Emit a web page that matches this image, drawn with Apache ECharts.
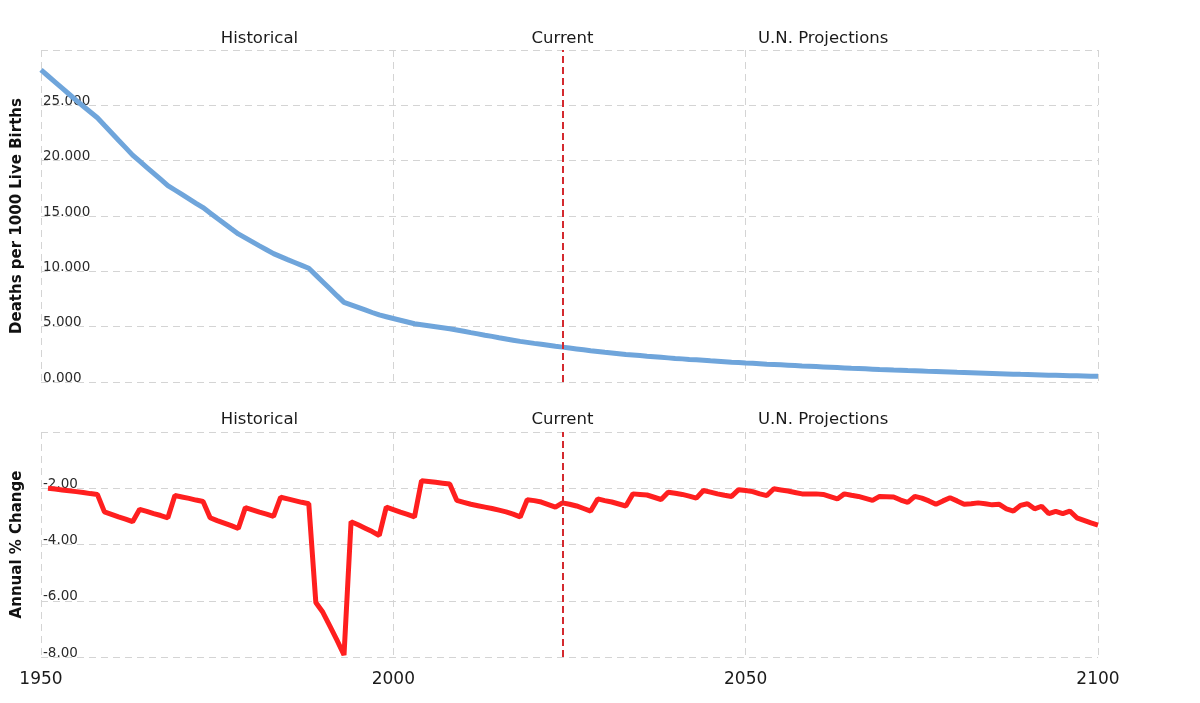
<!DOCTYPE html>
<html>
<head>
<meta charset="utf-8">
<title>Infant Mortality Rate</title>
<script src="https://cdn.jsdelivr.net/npm/echarts@6/dist/echarts.min.js"></script>
<style>
    html, body { margin: 0; padding: 0; background: #fff; }
    #chart { width: 1200px; height: 703px; }
</style>
</head>
<body>
<div id="chart"></div>
<script>
// years 1950..2100, one point per year
const firstYear = 1950;
const lastYear = 2100;
const currentYear = 2024;
const xTicks = [1950, 2000, 2050, 2100];

// deaths per 1000 live births, 1950..2100
const rateValues = [
    28.2, 27.65, 27.1, 26.55, 26.0, 25.45, 24.92, 24.4, 23.88, 23.2,
    22.53, 21.85, 21.18, 20.5, 19.95, 19.4, 18.85, 18.3, 17.75, 17.35,
    16.95, 16.55, 16.15, 15.76, 15.28, 14.8, 14.33, 13.85, 13.38, 13.02,
    12.66, 12.3, 11.95, 11.6, 11.33, 11.06, 10.8, 10.54, 10.28, 9.66,
    9.04, 8.42, 7.8, 7.2, 6.97, 6.74, 6.51, 6.28, 6.06, 5.9,
    5.74, 5.58, 5.42, 5.26, 5.17, 5.08, 4.99, 4.9, 4.81, 4.7,
    4.58, 4.46, 4.35, 4.23, 4.12, 4.0, 3.89, 3.78, 3.67, 3.58,
    3.49, 3.41, 3.32, 3.23, 3.15, 3.07, 2.99, 2.91, 2.83, 2.76,
    2.69, 2.63, 2.56, 2.49, 2.44, 2.39, 2.33, 2.28, 2.23, 2.18,
    2.13, 2.09, 2.04, 2.0, 1.96, 1.91, 1.87, 1.83, 1.79, 1.76,
    1.72, 1.69, 1.65, 1.61, 1.58, 1.55, 1.52, 1.49, 1.45, 1.42,
    1.39, 1.36, 1.33, 1.3, 1.27, 1.24, 1.22, 1.19, 1.16, 1.13,
    1.11, 1.08, 1.06, 1.03, 1.01, 0.99, 0.96, 0.94, 0.92, 0.9,
    0.87, 0.85, 0.83, 0.81, 0.79, 0.77, 0.75, 0.73, 0.71, 0.69,
    0.68, 0.66, 0.64, 0.62, 0.61, 0.59, 0.57, 0.56, 0.54, 0.52,
    0.51
];

// annual % change, 1951..2100
const changeValues = [
    -2.0, -2.03, -2.06, -2.09, -2.12, -2.15, -2.19, -2.22, -2.84,
    -2.93, -3.02, -3.1, -3.19, -2.75, -2.82, -2.9, -2.97, -3.05, -2.26,
    -2.31, -2.36, -2.42, -2.47, -3.05, -3.15, -3.24, -3.33, -3.43, -2.69,
    -2.77, -2.85, -2.92, -3.0, -2.32, -2.38, -2.44, -2.5, -2.55, -6.06,
    -6.41, -6.9, -7.4, -7.93, -3.19, -3.3, -3.42, -3.54, -3.68, -2.67,
    -2.76, -2.85, -2.93, -3.02, -1.73, -1.76, -1.79, -1.82, -1.85, -2.43,
    -2.5, -2.57, -2.62, -2.67, -2.72, -2.78, -2.84, -2.92, -3.02, -2.41,
    -2.44, -2.49, -2.58, -2.67, -2.52, -2.57, -2.63, -2.72, -2.81, -2.38,
    -2.44, -2.49, -2.56, -2.63, -2.2, -2.22, -2.24, -2.32, -2.4, -2.14,
    -2.18, -2.22, -2.28, -2.35, -2.08, -2.14, -2.2, -2.25, -2.29, -2.05,
    -2.08, -2.12, -2.2, -2.26, -2.02, -2.06, -2.1, -2.15, -2.2, -2.2,
    -2.2, -2.22, -2.3, -2.38, -2.2, -2.25, -2.29, -2.36, -2.43, -2.29,
    -2.3, -2.31, -2.42, -2.5, -2.29, -2.35, -2.45, -2.57, -2.45, -2.34,
    -2.45, -2.57, -2.55, -2.52, -2.55, -2.59, -2.57, -2.73, -2.81, -2.61,
    -2.55, -2.73, -2.64, -2.9, -2.82, -2.9, -2.81, -3.05, -3.14, -3.23,
    -3.31
];

const sectionLabels = ["Historical", "Current", "U.N. Projections"];
const sectionYears = [1981, 2024, 2061];

const rateData = rateValues.map((v, i) => [firstYear + i, v]);
const changeData = changeValues.map((v, i) => [firstYear + 1 + i, v]);

const FONT = "DejaVu Sans, Verdana, sans-serif";
const gridDash = { color: "#d4d4d4", width: 1, type: [7, 5] };

const chart = echarts.init(document.getElementById("chart"), null, { renderer: "canvas" });

function currentLine() {
    return {
        silent: true,
        symbol: ["none", "none"],
        label: { show: false },
        lineStyle: { color: "#d42a2f", width: 2, type: [7, 4] },
        data: [{ xAxis: currentYear }]
    };
}

function xAxisFor(gridIndex, showLabels) {
    return {
        type: "value",
        gridIndex: gridIndex,
        min: firstYear,
        max: lastYear,
        interval: 50,
        axisLine: { show: false },
        axisTick: { show: false },
        splitLine: { show: true, lineStyle: gridDash },
        axisLabel: {
            show: showLabels,
            color: "#1a1a1a",
            fontSize: 17,
            fontFamily: FONT,
            margin: 14,
            formatter: v => (xTicks.indexOf(v) >= 0 ? String(v) : "")
        }
    };
}

function yLabel(digits, hideAt) {
    return {
        inside: true,
        margin: 2,
        verticalAlign: "bottom",
        lineHeight: 8,
        color: "#2a2a2a",
        fontSize: 13.5,
        fontFamily: FONT,
        formatter: v => (v === hideAt ? "" : v.toFixed(digits))
    };
}

const nameStyle = { color: "#111", fontSize: 15, fontWeight: "bold", fontFamily: FONT };

const option = {
    animation: false,
    backgroundColor: "#fff",
    grid: [
        { left: 41, right: 102, top: 50, height: 332 },
        { left: 41, right: 102, top: 432, height: 225 }
    ],
    xAxis: [xAxisFor(0, false), xAxisFor(1, true)],
    yAxis: [
        {
            type: "value",
            gridIndex: 0,
            min: 0,
            max: 30,
            interval: 5,
            name: "Deaths per 1000 Live Births",
            nameLocation: "middle",
            nameGap: 16,
            nameTextStyle: nameStyle,
            axisLine: { show: false },
            axisTick: { show: false },
            splitLine: { show: true, lineStyle: gridDash },
            axisLabel: yLabel(3, 30)
        },
        {
            type: "value",
            gridIndex: 1,
            min: -8,
            max: 0,
            interval: 2,
            name: "Annual % Change",
            nameLocation: "middle",
            nameGap: 16,
            nameTextStyle: nameStyle,
            axisLine: { show: false },
            axisTick: { show: false },
            splitLine: { show: true, lineStyle: gridDash },
            axisLabel: yLabel(2, 0)
        }
    ],
    series: [
        {
            name: "Infant Mortality Rate",
            type: "line",
            xAxisIndex: 0,
            yAxisIndex: 0,
            data: rateData,
            showSymbol: false,
            lineStyle: { color: "#6fa5db", width: 5 },
            itemStyle: { color: "#6fa5db" },
            markLine: currentLine(),
            z: 3
        },
        {
            name: "Annual % Change",
            type: "line",
            xAxisIndex: 1,
            yAxisIndex: 1,
            data: changeData,
            showSymbol: false,
            lineStyle: { color: "#ff1f1f", width: 5 },
            itemStyle: { color: "#ff1f1f" },
            markLine: currentLine(),
            z: 3
        }
    ]
};

chart.setOption(option);

// section captions above each panel, placed through the x axis scale
const captionRows = [39, 420];
const graphics = [];
captionRows.forEach(y => {
    sectionLabels.forEach((text, i) => {
        const x = chart.convertToPixel({ xAxisIndex: 0 }, sectionYears[i]);
        graphics.push({
            type: "text",
            x: x,
            y: y,
            style: {
                text: text,
                align: "center",
                verticalAlign: "middle",
                fill: "#1a1a1a",
                font: "16.5px " + FONT
            }
        });
    });
});
chart.setOption({ graphic: graphics });
</script>
</body>
</html>
